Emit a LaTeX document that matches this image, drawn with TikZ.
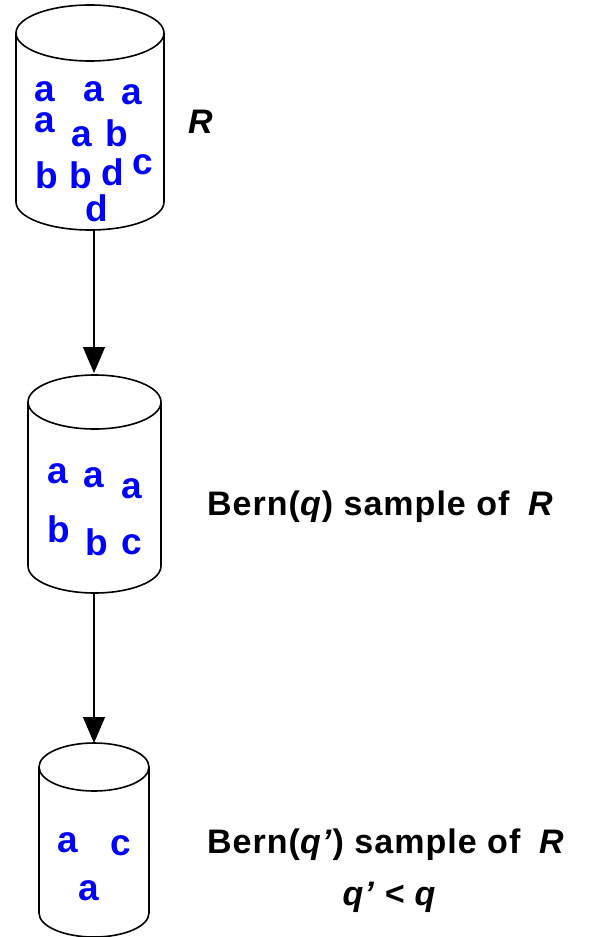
\documentclass[tikz,border=0pt]{standalone}
\usepackage{fontspec}
\setmainfont{Liberation Sans}
\newfontfamily\captionfont{Liberation Sans}[LetterSpace=3]
\usetikzlibrary{arrows.meta}
\definecolor{itemblue}{RGB}{0,0,255}

% a can: top ellipse, two sides and the lower front arc
\newcommand{\drawcan}[6]{% name, cx, y of top centre, y of bottom centre, rx, ry
  \draw[canline] (#2,#3) ellipse [x radius=#5pt, y radius=#6pt];
  \draw[canline] (#2-#5,#3) -- (#2-#5,#4)
    arc[start angle=180, end angle=360, x radius=#5pt, y radius=#6pt]
    -- (#2+#5,#3);
}

\begin{document}
\begin{tikzpicture}[x=1pt,y=1pt,
  canline/.style={line width=1.6pt, black},
  item/.style={anchor=base, inner sep=0pt, text=itemblue,
    font=\fontsize{37}{40}\selectfont\bfseries},
  caption/.style={inner sep=0pt, font=\captionfont\fontsize{34}{40}\selectfont\bfseries},
  flow/.style={line width=1.3pt, -{Triangle[length=26pt, width=22pt]}}]
\useasboundingbox (0,0) rectangle (592,-937);

% the full relation R
\drawcan{r}{90}{-33}{-202}{74}{28}
\node[item] (r1) at (45,-101.7) {a};
\node[item] (r2) at (94,-101.7) {a};
\node[item] (r3) at (132,-104) {a};
\node[item] (r4) at (45,-132.7) {a};
\node[item] (r5) at (82,-146.7) {a};
\node[item] (r6) at (117,-146.7) {b};
\node[item] (r7) at (47,-188) {b};
\node[item] (r8) at (81,-188) {b};
\node[item] (r9) at (113,-185) {d};
\node[item] (r10) at (143,-174) {c};
\node[item] (r11) at (97,-221.7) {d};
\node[caption, anchor=base west] (rlabel) at (188,-133) {\itshape R};

% first Bernoulli sample
\drawcan{s}{94.5}{-402}{-566}{66.5}{27}
\node[item] (s1) at (58,-483) {a};
\node[item] (s2) at (94,-487) {a};
\node[item] (s3) at (132,-498) {a};
\node[item] (s4) at (59,-542) {b};
\node[item] (s5) at (97,-555) {b};
\node[item] (s6) at (132,-554) {c};
\node[caption, anchor=base west] (slabel) at (207,-515)
  {Bern(\textit{q}) sample of\hspace{0.55em}\textit{R}};

% second, smaller Bernoulli sample
\drawcan{t}{94}{-767}{-913}{55}{24}
\node[item] (t1) at (68,-852) {a};
\node[item] (t2) at (121,-855) {c};
\node[item] (t3) at (89,-900) {a};
\node[caption, anchor=base west] (tlabel) at (207,-853)
  {Bern(\textit{q’}) sample of\hspace{0.55em}\textit{R}};
\node[caption, anchor=base] (tcond) at (389,-905) {\itshape q’ < q};

% sampling steps
\coordinate (rout) at (94,-230);
\coordinate (sin) at (94,-373);
\coordinate (sout) at (94,-593);
\coordinate (tin) at (94,-743);
\draw[flow] (rout) -- (sin);
\draw[flow] (sout) -- (tin);
\end{tikzpicture}
\end{document}
